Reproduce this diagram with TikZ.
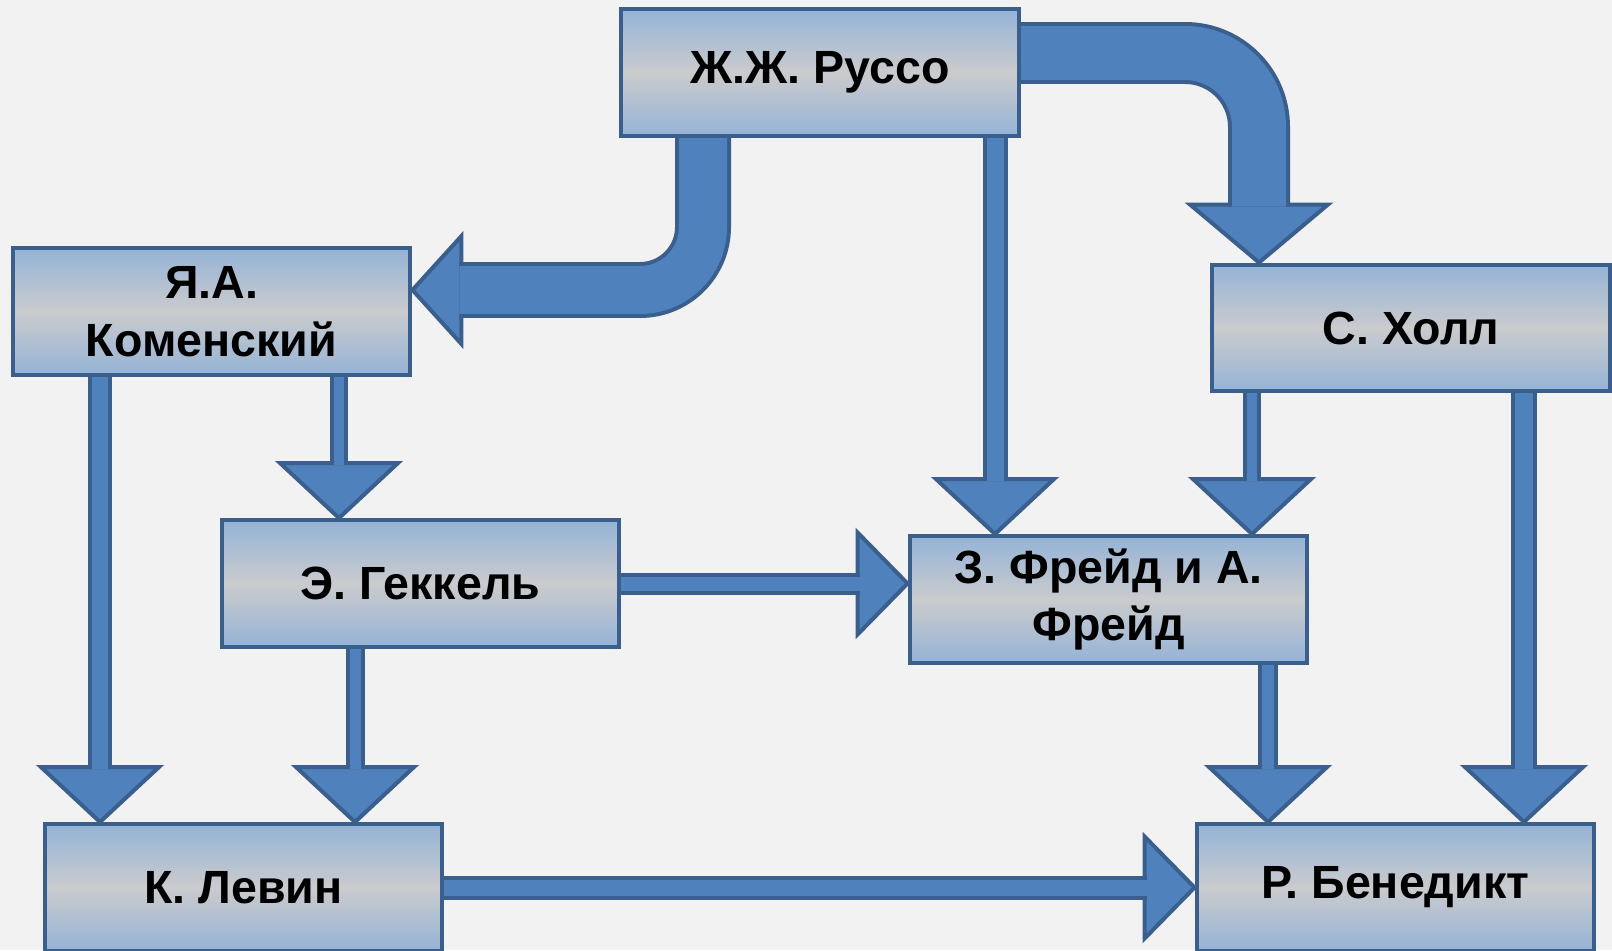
\documentclass[tikz,border=0pt]{standalone}
\usepackage{fontspec}
\setmainfont{Liberation Sans}
\usetikzlibrary{calc}
\definecolor{PageClr}{HTML}{F2F2F2}
\definecolor{BoxClr}{HTML}{95B3D7}
\definecolor{MidClr}{HTML}{CACBCD}
\definecolor{LineClr}{HTML}{3A5F8D}
\definecolor{ArrowClr}{HTML}{4F81BD}
\pgfdeclarelayer{bg}
\pgfdeclarelayer{links}
\pgfsetlayers{bg,links,main}
\tikzset{
  person/.style={draw=LineClr,line width=0.08cm,top color=BoxClr,bottom color=BoxClr,
    middle color=MidClr,minimum width=7.96cm,minimum height=2.54cm,inner sep=0pt,
    align=center,font=\fontsize{26.5}{33}\selectfont\bfseries},
  bodyline/.style={draw=LineClr,line width=0.08cm,double=ArrowClr,double distance=#1},
  headshape/.style={fill=ArrowClr,draw=LineClr,line width=0.08cm,line join=miter}
}
\newcommand{\HeadDown}[1]{\draw[headshape] (#1) -- ++(-59,-55) -- ++(118,0) -- cycle;}
\newcommand{\HeadRight}[1]{\draw[headshape] (#1) -- ++(-50,-51) -- ++(0,102) -- cycle;}

\begin{document}
\begin{tikzpicture}[x=0.02cm,y=-0.02cm]
\useasboundingbox (0,0) rectangle (1612,950);
\begin{pgfonlayer}{bg}
\fill[PageClr] (0,0) rectangle (1612,950);
\end{pgfonlayer}

\node[person] (russo) at (820,72.5) {Ж.Ж. Руссо};
\node[person] (komensky) at (211.5,311.5) {Я.А.\\Коменский};
\node[person] (holl) at (1411,328) {С. Холл};
\node[person] (geckel) at (420.5,583.5) {Э. Геккель};
\node[person] (freud) at (1108.5,599.5) {З. Фрейд и А.\\Фрейд};
\node[person] (levin) at (243.5,887.5) {К. Левин};
\node[person] (benedikt) at (1395.5,887.5) {Р. Бенедикт};

\begin{pgfonlayer}{links}
% bent arrows from Rousseau
\draw[headshape] (komensky.east |- 0,290) -- ++(49,-54) -- ++(0,108) -- cycle;
\draw[bodyline=0.96cm,rounded corners=1.26cm,shorten >=0.94cm]
  (703,0 |- russo.south) -- (703,290) -- (komensky.east |- 0,290);
\draw[headshape] (1259,0 |- holl.north) -- ++(-69,-58) -- ++(138,0) -- cycle;
\draw[bodyline=1.08cm,rounded corners=1.48cm,shorten >=1.12cm]
  (russo.east |- 0,53) -- (1259,53) -- (1259,0 |- holl.north);

% straight arrows
\HeadDown{995,0 |- freud.north}
\draw[bodyline=0.34cm,shorten >=1.06cm] (995,0 |- russo.south) -- (995,0 |- freud.north);
\HeadDown{1252,0 |- freud.north}
\draw[bodyline=0.2cm,shorten >=1.06cm] (1252,0 |- holl.south) -- (1252,0 |- freud.north);
\HeadDown{1524,0 |- benedikt.north}
\draw[bodyline=0.36cm,shorten >=1.06cm] (1524,0 |- holl.south) -- (1524,0 |- benedikt.north);
\HeadDown{1268,0 |- benedikt.north}
\draw[bodyline=0.24cm,shorten >=1.06cm] (1268,0 |- freud.south) -- (1268,0 |- benedikt.north);
\HeadDown{100,0 |- levin.north}
\draw[bodyline=0.32cm,shorten >=1.06cm] (100,0 |- komensky.south) -- (100,0 |- levin.north);
\HeadDown{339,0 |- geckel.north}
\draw[bodyline=0.2cm,shorten >=1.06cm] (339,0 |- komensky.south) -- (339,0 |- geckel.north);
\HeadDown{355,0 |- levin.north}
\draw[bodyline=0.22cm,shorten >=1.06cm] (355,0 |- geckel.south) -- (355,0 |- levin.north);
\HeadRight{freud.west |- geckel.east}
\draw[bodyline=0.28cm,shorten >=0.96cm] (geckel.east) -- (freud.west |- geckel.east);
\HeadRight{benedikt.west |- levin.east}
\draw[bodyline=0.32cm,shorten >=0.96cm] (levin.east) -- (benedikt.west |- levin.east);
\end{pgfonlayer}
\end{tikzpicture}
\end{document}
